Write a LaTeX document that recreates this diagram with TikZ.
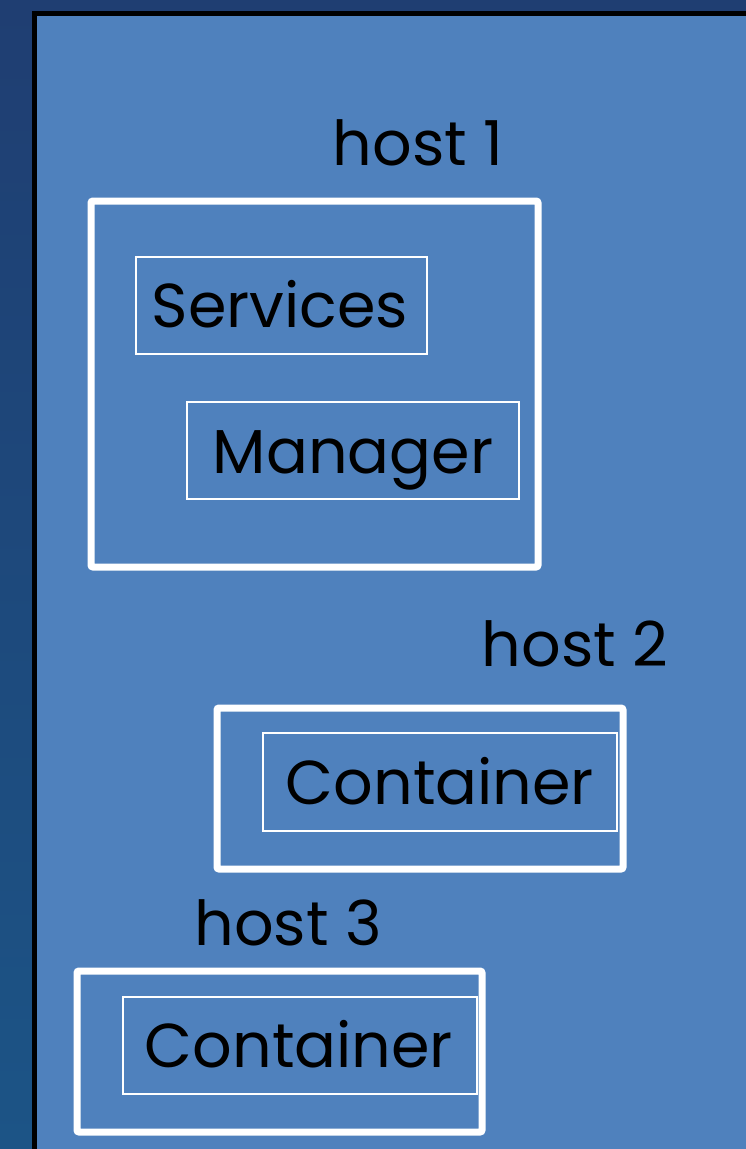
\documentclass[tikz,border=0pt]{standalone}
\usepackage{fontspec}
\setmainfont{Poppins}
\definecolor{bgtop}{RGB}{31,62,114}
\definecolor{bgbot}{RGB}{28,84,134}
\definecolor{panel}{RGB}{79,129,189}
\begin{document}
\begin{tikzpicture}[x=1pt,y=-1pt,
  hostbox/.style={draw=white, line width=7pt, rounded corners=2pt, rectangle, inner sep=0pt},
  inbox/.style={draw=white, line width=1.3pt, rectangle, inner sep=0pt},
  lbl/.style={anchor=base, inner sep=0pt, text=black, font=\fontsize{62}{74}\selectfont}]
\useasboundingbox (0,0) rectangle (746,1149);
\shade[top color=bgtop, bottom color=bgbot] (0,0) rectangle (746,1149);
\fill[panel] (34.5,13.5) rectangle (760,1160);
\draw[black, line width=5pt] (34.5,1160) -- (34.5,13.5) -- (760,13.5);
% host 1
\node[hostbox, minimum width=447, minimum height=366] (h1) at (314.5,384) {};
\node[inbox, minimum width=291, minimum height=97] (sbox) at (281.5,305.5) {};
\node[inbox, minimum width=332, minimum height=97] (mbox) at (353,450.5) {};
\node[lbl] (h1t) at (418,165) {host 1};
\node[lbl] (st) at (280,327) {Services};
\node[lbl] (mt) at (353,473) {Manager};
% host 2
\node[hostbox, minimum width=406, minimum height=161] (h2) at (420,788.5) {};
\node[inbox, minimum width=354, minimum height=98] (c2box) at (440,782) {};
\node[lbl] (h2t) at (575,666) {host 2};
\node[lbl] (c2t) at (440,804) {Container};
% host 3
\node[hostbox, minimum width=405, minimum height=161] (h3) at (279.5,1051.5) {};
\node[inbox, minimum width=354, minimum height=97] (c3box) at (300,1045.5) {};
\node[lbl] (h3t) at (288,945) {host 3};
\node[lbl] (c3t) at (299,1067) {Container};
\end{tikzpicture}
\end{document}
